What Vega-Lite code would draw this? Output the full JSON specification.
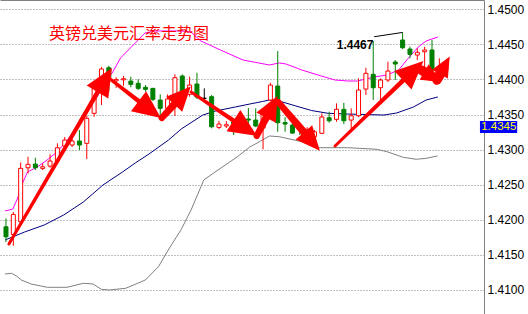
{
  "$schema": "https://vega.github.io/schema/vega-lite/v6.json",
  "width": 484,
  "height": 314,
  "autosize": {"type": "none"},
  "padding": {"left": 0, "top": 0, "right": 44, "bottom": 0},
  "background": "#ffffff",
  "config": {
    "view": {"stroke": null},
    "axisY": {"orient": "right", "values": [1.41, 1.415, 1.42, 1.425, 1.43, 1.435, 1.44, 1.445, 1.45], "format": ".4f", "grid": true, "gridColor": "#808080", "gridDash": [1, 2], "gridWidth": 1, "gridOpacity": 1, "domainColor": "#808080", "domainWidth": 1, "ticks": false, "labelPadding": 3, "labelFont": "Liberation Sans", "labelFontSize": 12, "labelColor": "#000000", "labelBaseline": "middle", "title": null},
    "axisX": {"orient": "top", "domain": true, "domainColor": "#808080", "labels": false, "ticks": false, "grid": false, "title": null}
  },
  "resolve": {"scale": {"size": "independent"}},
  "datasets": {
    "candles": [
      {"i":0,"o":1.4190,"h":1.4202,"l":1.41682,"c":1.41757},
      {"i":1,"o":1.4179,"h":1.4211,"l":1.41629,"c":1.42076},
      {"i":2,"o":1.41971,"h":1.42818,"l":1.41953,"c":1.42733},
      {"i":3,"o":1.42741,"h":1.42898,"l":1.42661,"c":1.42790},
      {"i":4,"o":1.42794,"h":1.42884,"l":1.42708,"c":1.42741},
      {"i":5,"o":1.42732,"h":1.42804,"l":1.42708,"c":1.42755},
      {"i":6,"o":1.42765,"h":1.42932,"l":1.42741,"c":1.42837},
      {"i":7,"o":1.42837,"h":1.43089,"l":1.42808,"c":1.43026},
      {"i":8,"o":1.43050,"h":1.43180,"l":1.43021,"c":1.43136},
      {"i":9,"o":1.43065,"h":1.43179,"l":1.43036,"c":1.43122},
      {"i":10,"o":1.43122,"h":1.43279,"l":1.42994,"c":1.43065},
      {"i":11,"o":1.43089,"h":1.43480,"l":1.42865,"c":1.43446},
      {"i":12,"o":1.43517,"h":1.43910,"l":1.43468,"c":1.43873},
      {"i":13,"o":1.43920,"h":1.44177,"l":1.43635,"c":1.44149},
      {"i":14,"o":1.44167,"h":1.44196,"l":1.43825,"c":1.44025},
      {"i":15,"o":1.43980,"h":1.44030,"l":1.43880,"c":1.44000},
      {"i":16,"o":1.43995,"h":1.44050,"l":1.43910,"c":1.44010},
      {"i":17,"o":1.43977,"h":1.44039,"l":1.43888,"c":1.43930},
      {"i":18,"o":1.43945,"h":1.44002,"l":1.43849,"c":1.43873},
      {"i":19,"o":1.43888,"h":1.43920,"l":1.43825,"c":1.43859},
      {"i":20,"o":1.43873,"h":1.43880,"l":1.43692,"c":1.43717},
      {"i":21,"o":1.43707,"h":1.43788,"l":1.43468,"c":1.43588},
      {"i":22,"o":1.43588,"h":1.43788,"l":1.43578,"c":1.43721},
      {"i":23,"o":1.43739,"h":1.44073,"l":1.43478,"c":1.44025},
      {"i":24,"o":1.44049,"h":1.44073,"l":1.43778,"c":1.43802},
      {"i":25,"o":1.43788,"h":1.44039,"l":1.43754,"c":1.43920},
      {"i":26,"o":1.43935,"h":1.44096,"l":1.43721,"c":1.43749},
      {"i":27,"o":1.43731,"h":1.43873,"l":1.43682,"c":1.43731},
      {"i":28,"o":1.43754,"h":1.43778,"l":1.43303,"c":1.43326},
      {"i":29,"o":1.43317,"h":1.43411,"l":1.43293,"c":1.43364},
      {"i":30,"o":1.43336,"h":1.43406,"l":1.43307,"c":1.43354},
      {"i":31,"o":1.43397,"h":1.43436,"l":1.43207,"c":1.43326},
      {"i":32,"o":1.43350,"h":1.43468,"l":1.43321,"c":1.43431},
      {"i":33,"o":1.43436,"h":1.43592,"l":1.43279,"c":1.43421},
      {"i":34,"o":1.43421,"h":1.43588,"l":1.43321,"c":1.43336},
      {"i":35,"o":1.43307,"h":1.43592,"l":1.43003,"c":1.43564},
      {"i":36,"o":1.43707,"h":1.43953,"l":1.43692,"c":1.43920},
      {"i":37,"o":1.43906,"h":1.44405,"l":1.43254,"c":1.43383},
      {"i":38,"o":1.43386,"h":1.43464,"l":1.43254,"c":1.43364},
      {"i":39,"o":1.43350,"h":1.43446,"l":1.43222,"c":1.43236},
      {"i":40,"o":1.43308,"h":1.43379,"l":1.43208,"c":1.43295},
      {"i":41,"o":1.43250,"h":1.43321,"l":1.43222,"c":1.43279},
      {"i":42,"o":1.43183,"h":1.43279,"l":1.43179,"c":1.43254},
      {"i":43,"o":1.43232,"h":1.43517,"l":1.43222,"c":1.43464},
      {"i":44,"o":1.43454,"h":1.43540,"l":1.43383,"c":1.43411},
      {"i":45,"o":1.43431,"h":1.43659,"l":1.43397,"c":1.43574},
      {"i":46,"o":1.43574,"h":1.43668,"l":1.43364,"c":1.43411},
      {"i":47,"o":1.43421,"h":1.43588,"l":1.43246,"c":1.43483},
      {"i":48,"o":1.43483,"h":1.44016,"l":1.43464,"c":1.43849},
      {"i":49,"o":1.43863,"h":1.44167,"l":1.43778,"c":1.44087},
      {"i":50,"o":1.44073,"h":1.44548,"l":1.43707,"c":1.43882},
      {"i":51,"o":1.43882,"h":1.44016,"l":1.43707,"c":1.43992},
      {"i":52,"o":1.43992,"h":1.44253,"l":1.43963,"c":1.44120},
      {"i":53,"o":1.44249,"h":1.44277,"l":1.43992,"c":1.44220},
      {"i":54,"o":1.44562,"h":1.44670,"l":1.44434,"c":1.44452},
      {"i":55,"o":1.44434,"h":1.44467,"l":1.44301,"c":1.44358},
      {"i":56,"o":1.44348,"h":1.44444,"l":1.44277,"c":1.44387},
      {"i":57,"o":1.44395,"h":1.44467,"l":1.44134,"c":1.44420},
      {"i":58,"o":1.44420,"h":1.44562,"l":1.44106,"c":1.44134},
      {"i":59,"o":1.44134,"h":1.44301,"l":1.44134,"c":1.44181}
    ],
    "bands": [
      {"band":"upper","i":-0.133,"p":1.42125},{"band":"upper","i":0.933,"p":1.42153},{"band":"upper","i":1.6,"p":1.42310},{"band":"upper","i":2.267,"p":1.42524},{"band":"upper","i":2.933,"p":1.42681},{"band":"upper","i":4.267,"p":1.42752},{"band":"upper","i":5.6,"p":1.42852},{"band":"upper","i":6.933,"p":1.42966},{"band":"upper","i":8.267,"p":1.43123},{"band":"upper","i":10.533,"p":1.43450},{"band":"upper","i":11.867,"p":1.43664},{"band":"upper","i":13.2,"p":1.43892},{"band":"upper","i":14.533,"p":1.44106},{"band":"upper","i":15.6,"p":1.44306},{"band":"upper","i":17.6,"p":1.44520},{"band":"upper","i":18.933,"p":1.44662},{"band":"upper","i":20.267,"p":1.44691},{"band":"upper","i":23.867,"p":1.44691},{"band":"upper","i":25.2,"p":1.44676},{"band":"upper","i":26.533,"p":1.44548},{"band":"upper","i":29.2,"p":1.44420},{"band":"upper","i":32.267,"p":1.44277},{"band":"upper","i":35.867,"p":1.44206},{"band":"upper","i":37.2,"p":1.44235},{"band":"upper","i":38.133,"p":1.44220},{"band":"upper","i":40.267,"p":1.44135},{"band":"upper","i":42.933,"p":1.44049},{"band":"upper","i":44.8,"p":1.43992},{"band":"upper","i":46.533,"p":1.43978},{"band":"upper","i":47.867,"p":1.43978},{"band":"upper","i":50.133,"p":1.44035},{"band":"upper","i":51.867,"p":1.44063},{"band":"upper","i":53.467,"p":1.44135},{"band":"upper","i":54.8,"p":1.44306},{"band":"upper","i":56.133,"p":1.44463},{"band":"upper","i":57.2,"p":1.44548},{"band":"upper","i":58.8,"p":1.44605},
      {"band":"middle","i":-0.133,"p":1.41711},{"band":"middle","i":2.533,"p":1.41825},{"band":"middle","i":5.2,"p":1.41925},{"band":"middle","i":7.867,"p":1.42068},{"band":"middle","i":10.533,"p":1.42253},{"band":"middle","i":13.2,"p":1.42495},{"band":"middle","i":15.867,"p":1.42681},{"band":"middle","i":17.6,"p":1.42809},{"band":"middle","i":19.467,"p":1.42937},{"band":"middle","i":22.133,"p":1.43137},{"band":"middle","i":23.867,"p":1.43294},{"band":"middle","i":26.8,"p":1.43493},{"band":"middle","i":28.533,"p":1.43550},{"band":"middle","i":31.2,"p":1.43607},{"band":"middle","i":33.2,"p":1.43650},{"band":"middle","i":34.933,"p":1.43686},{"band":"middle","i":35.867,"p":1.43707},{"band":"middle","i":36.933,"p":1.43700},{"band":"middle","i":39.467,"p":1.43622},{"band":"middle","i":41.6,"p":1.43557},{"band":"middle","i":43.867,"p":1.43517},{"band":"middle","i":46.533,"p":1.43507},{"band":"middle","i":51.467,"p":1.43493},{"band":"middle","i":53.2,"p":1.43522},{"band":"middle","i":55.467,"p":1.43607},{"band":"middle","i":57.2,"p":1.43707},{"band":"middle","i":58.8,"p":1.43750},
      {"band":"lower","i":-0.133,"p":1.41227},{"band":"lower","i":0.76,"p":1.41237},{"band":"lower","i":1.427,"p":1.41198},{"band":"lower","i":2.093,"p":1.41141},{"band":"lower","i":3.427,"p":1.41084},{"band":"lower","i":5.64,"p":1.41037},{"band":"lower","i":8.307,"p":1.41037},{"band":"lower","i":10.533,"p":1.41094},{"band":"lower","i":11.867,"p":1.41084},{"band":"lower","i":12.973,"p":1.41009},{"band":"lower","i":14.093,"p":1.40999},{"band":"lower","i":16.307,"p":1.41023},{"band":"lower","i":18.973,"p":1.41141},{"band":"lower","i":20.76,"p":1.41331},{"band":"lower","i":22.093,"p":1.41569},{"band":"lower","i":23.867,"p":1.41864},{"band":"lower","i":25.2,"p":1.42139},{"band":"lower","i":26.933,"p":1.42567},{"band":"lower","i":28.267,"p":1.42666},{"band":"lower","i":31.467,"p":1.42895},{"band":"lower","i":33.2,"p":1.43037},{"band":"lower","i":34.933,"p":1.43137},{"band":"lower","i":35.867,"p":1.43194},{"band":"lower","i":37.2,"p":1.43184},{"band":"lower","i":40.267,"p":1.43113},{"band":"lower","i":42.533,"p":1.43027},{"band":"lower","i":46.533,"p":1.43027},{"band":"lower","i":50.533,"p":1.43004},{"band":"lower","i":51.867,"p":1.42970},{"band":"lower","i":54.093,"p":1.42890},{"band":"lower","i":55.867,"p":1.42862},{"band":"lower","i":57.2,"p":1.42876},{"band":"lower","i":58.76,"p":1.42909}
    ],
    "shafts": [
      {"arrow":1,"part":"tail-L","i":0.4,"p":1.41654},{"arrow":1,"part":"neck-L","i":12.76,"p":1.43870},
      {"arrow":2,"part":"tail-L","i":14.0,"p":1.44021},{"arrow":2,"part":"neck-L","i":18.51,"p":1.43656},
      {"arrow":3,"part":"tail-M","i":21.2,"p":1.43450},{"arrow":3,"part":"neck-M","i":23.39,"p":1.43701},
      {"arrow":4,"part":"tail-L","i":25.2,"p":1.43821},{"arrow":4,"part":"neck-L","i":31.45,"p":1.43382},
      {"arrow":5,"part":"tail-M","i":34.13,"p":1.43194},{"arrow":5,"part":"neck-M","i":35.75,"p":1.43522},
      {"arrow":6,"part":"tail-M","i":37.07,"p":1.43679},{"arrow":6,"part":"neck-M","i":41.04,"p":1.43191},
      {"arrow":7,"part":"tail-L","i":44.8,"p":1.43051},{"arrow":7,"part":"neck-L","i":54.48,"p":1.44028},
      {"arrow":8,"part":"tail-S","i":56.53,"p":1.44135},{"arrow":8,"part":"neck-S","i":57.65,"p":1.44065},
      {"arrow":9,"part":"tail-S","i":58.67,"p":1.43992},{"arrow":9,"part":"neck-S","i":59.49,"p":1.44152}
    ],
    "heads": [
      {"arrow":1,"kind":"L","i":13.44,"p":1.43992,"heading":31},
      {"arrow":2,"kind":"L","i":19.57,"p":1.43570,"heading":127},
      {"arrow":3,"kind":"M","i":24.03,"p":1.43774,"heading":43},
      {"arrow":4,"kind":"L","i":32.57,"p":1.43304,"heading":123},
      {"arrow":5,"kind":"M","i":36.19,"p":1.43610,"heading":28},
      {"arrow":6,"kind":"M","i":41.65,"p":1.43115,"heading":139},
      {"arrow":7,"kind":"L","i":55.44,"p":1.44126,"heading":47},
      {"arrow":8,"kind":"S","i":58.11,"p":1.44035,"heading":120},
      {"arrow":9,"kind":"S","i":59.75,"p":1.44202,"heading":29}
    ]
  },
  "layer": [
    {
      "data": {"name": "bands"},
      "mark": {"type": "line", "strokeWidth": 1, "clip": true},
      "encoding": {
        "x": {"field": "i", "type": "quantitative", "scale": {"domain": [-0.1333, 64.4], "nice": false, "zero": false}, "title": null},
        "y": {"field": "p", "type": "quantitative", "scale": {"domain": [1.406565, 1.451326], "nice": false, "zero": false}, "title": null},
        "color": {"field": "band", "type": "nominal", "scale": {"domain": ["upper", "middle", "lower"], "range": ["#ff00ff", "#000080", "#808080"]}, "legend": null},
        "order": {"field": "i", "type": "quantitative"}
      }
    },
    {
      "data": {"name": "candles"},
      "mark": {"type": "rule", "strokeWidth": 1},
      "encoding": {
        "x": {"field": "i", "type": "quantitative", "title": null},
        "y": {"field": "l", "type": "quantitative", "title": null},
        "y2": {"field": "h"},
        "stroke": {"condition": [{"test": "datum.c > datum.o", "value": "#ff0000"}, {"test": "datum.c < datum.o", "value": "#008000"}], "value": "#000000"}
      }
    },
    {
      "data": {"name": "candles"},
      "mark": {"type": "bar", "width": 4, "strokeWidth": 1},
      "encoding": {
        "x": {"field": "i", "type": "quantitative", "title": null},
        "y": {"field": "o", "type": "quantitative", "title": null},
        "y2": {"field": "c"},
        "stroke": {"condition": [{"test": "datum.c > datum.o", "value": "#ff0000"}, {"test": "datum.c < datum.o", "value": "#008000"}], "value": "#000000"},
        "fill": {"condition": [{"test": "datum.c > datum.o", "value": "#ffffff"}, {"test": "datum.c < datum.o", "value": "#008000"}], "value": "#000000"}
      }
    },
    {
      "data": {"name": "shafts"},
      "mark": {"type": "trail", "color": "#ff0000"},
      "encoding": {
        "x": {"field": "i", "type": "quantitative", "title": null},
        "y": {"field": "p", "type": "quantitative", "title": null},
        "detail": {"field": "arrow", "type": "nominal"},
        "order": {"field": "part", "type": "nominal", "sort": "descending"},
        "size": {"field": "part", "type": "nominal", "scale": {"domain": ["tail-L", "neck-L", "tail-M", "neck-M", "tail-S", "neck-S"], "range": [3, 11, 3, 8, 2, 5]}, "legend": null}
      }
    },
    {
      "data": {"name": "heads"},
      "mark": {"type": "point", "shape": "M0,-1L0.9,1L-0.9,1Z", "filled": true, "color": "#ff0000", "opacity": 1, "strokeWidth": 0},
      "encoding": {
        "x": {"field": "i", "type": "quantitative", "title": null},
        "y": {"field": "p", "type": "quantitative", "title": null},
        "angle": {"field": "heading", "type": "quantitative", "scale": null},
        "size": {"field": "kind", "type": "nominal", "scale": {"domain": ["L", "M", "S"], "range": [784, 400, 144]}, "legend": null}
      }
    },
    {
      "data": {"values": [{"i": 50.13, "p": 1.44609}, {"i": 54.0, "p": 1.44670}]},
      "mark": {"type": "line", "color": "#000000", "strokeWidth": 1},
      "encoding": {
        "x": {"field": "i", "type": "quantitative", "title": null},
        "y": {"field": "p", "type": "quantitative", "title": null}
      }
    },
    {
      "data": {"values": [{"t": "1.4467", "i": 47.53, "p": 1.44495}]},
      "mark": {"type": "text", "font": "Liberation Sans", "fontSize": 12, "fontWeight": "bold", "color": "#000000", "align": "center", "baseline": "middle"},
      "encoding": {
        "x": {"field": "i", "type": "quantitative", "title": null},
        "y": {"field": "p", "type": "quantitative", "title": null},
        "text": {"field": "t"}
      }
    },
    {
      "data": {"values": [{"t": "英镑兑美元汇率走势图", "i": 5.87, "p": 1.44648}]},
      "mark": {"type": "text", "font": "Noto Sans CJK SC", "fontSize": 16, "color": "#ff0000", "align": "left", "baseline": "middle"},
      "encoding": {
        "x": {"field": "i", "type": "quantitative", "title": null},
        "y": {"field": "p", "type": "quantitative", "title": null},
        "text": {"field": "t"}
      }
    },
    {
      "data": {"values": [{"t": "1.4345", "i1": 64.53, "i2": 69.6, "p1": 1.43406, "p2": 1.43237}]},
      "mark": {"type": "rect", "color": "#0000ff", "clip": false},
      "encoding": {
        "x": {"field": "i1", "type": "quantitative", "title": null},
        "x2": {"field": "i2"},
        "y": {"field": "p1", "type": "quantitative", "title": null},
        "y2": {"field": "p2"}
      }
    },
    {
      "data": {"values": [{"t": "1.4345", "i": 64.7, "p": 1.43322}]},
      "mark": {"type": "text", "font": "Liberation Sans", "fontSize": 11.5, "color": "#ffff00", "align": "left", "baseline": "middle", "clip": false},
      "encoding": {
        "x": {"field": "i", "type": "quantitative", "title": null},
        "y": {"field": "p", "type": "quantitative", "title": null},
        "text": {"field": "t"}
      }
    }
  ]
}
